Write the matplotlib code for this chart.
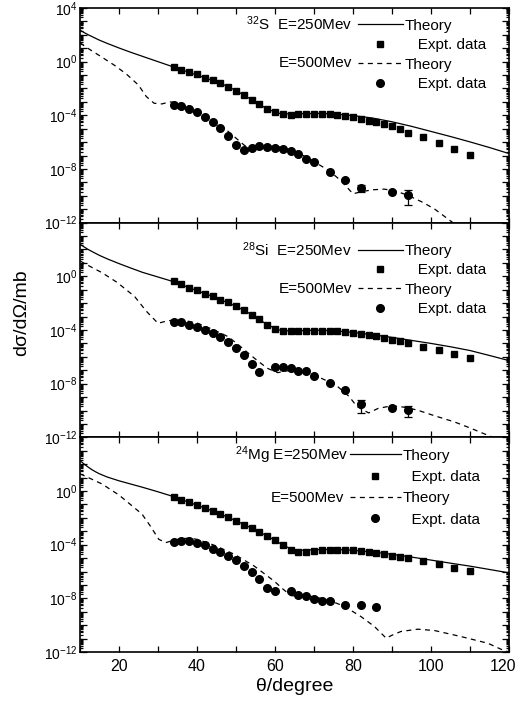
import numpy as np
import matplotlib
matplotlib.use("Agg")
import matplotlib.pyplot as plt
from matplotlib.ticker import LogLocator, MultipleLocator, FuncFormatter, NullFormatter
from matplotlib.lines import Line2D
from matplotlib.legend_handler import HandlerLine2D
from matplotlib.transforms import ScaledTranslation

plt.rcParams['font.family'] = ['Liberation Sans', 'DejaVu Sans']
plt.rcParams['mathtext.fontset'] = 'custom'
plt.rcParams['mathtext.rm'] = 'Liberation Sans'
plt.rcParams['mathtext.it'] = 'Liberation Sans:italic'
plt.rcParams['mathtext.bf'] = 'Liberation Sans:bold'

# ---------------- data (log10 of dσ/dΩ in mb) ----------------
sq_theta = [34, 36, 38, 40, 42, 44, 46, 48, 50, 52, 54, 56, 58, 60, 62, 64, 66, 68,
            70, 72, 74, 76, 78, 80, 82, 84, 86, 88, 90, 92, 94, 98, 102, 106, 110]

# 32S
s32_sq = [-0.40, -0.60, -0.80, -0.95, -1.20, -1.40, -1.60, -1.90, -2.15, -2.48, -2.83,
          -3.15, -3.53, -3.78, -3.90, -3.95, -3.93, -3.90, -3.90, -3.90, -3.90, -3.95,
          -4.03, -4.15, -4.25, -4.40, -4.53, -4.65, -4.83, -5.03, -5.28, -5.65, -6.03,
          -6.48, -6.95]
s32_ci_theta = [34, 36, 38, 40, 42, 44, 46, 48, 50, 52, 54, 56, 58, 60, 62, 64, 66, 68,
                70, 74, 78, 82, 90, 94]
s32_ci = [-3.20, -3.28, -3.53, -3.73, -4.10, -4.48, -4.95, -5.53, -6.20, -6.58, -6.40,
          -6.28, -6.33, -6.40, -6.48, -6.65, -6.90, -7.23, -7.45, -8.23, -8.85, -9.40,
          -9.70, -9.95]
s32_err_theta = [82, 94]
s32_err_lo = [-9.70, -10.65]
s32_err_hi = [-9.20, -9.60]
s32_th250_theta = [10, 11, 12, 13, 15, 17, 20, 23, 26, 30, 34, 38, 42, 46, 50, 54, 58,
                   61, 64, 68, 72, 76, 80, 85, 90, 95, 100, 105, 110, 115, 120]
s32_th250 = [2.35, 2.18, 2.02, 1.88, 1.60, 1.36, 1.02, 0.70, 0.40, 0.00, -0.40, -0.80,
             -1.20, -1.60, -2.15, -2.83, -3.53, -3.85, -3.90, -3.87, -3.86, -3.92, -4.02,
             -4.20, -4.48, -4.82, -5.20, -5.58, -5.98, -6.40, -6.85]
s32_th500_theta = [10, 12, 15, 19, 22, 25, 27, 29, 31, 33, 35, 38, 41, 44, 47, 50, 52,
                   54, 56, 58, 60, 62, 65, 68, 70, 74, 77, 80, 82, 85, 88, 91, 94, 98,
                   101, 104, 107]
s32_th500 = [1.40, 1.00, 0.45, -0.30, -0.95, -1.75, -2.60, -3.10, -3.15, -3.00, -3.05,
             -3.30, -3.80, -4.40, -4.95, -5.70, -6.20, -6.60, -6.55, -6.30, -6.30, -6.40,
             -6.70, -7.10, -7.45, -8.15, -8.90, -9.85, -9.70, -9.55, -9.50, -9.65, -9.95,
             -10.50, -11.00, -11.65, -12.30]

# 28Si
si28_sq = [-0.35, -0.60, -0.85, -1.05, -1.28, -1.48, -1.73, -1.93, -2.23, -2.48, -2.85,
           -3.18, -3.60, -3.93, -4.10, -4.10, -4.05, -4.05, -4.05, -4.05, -4.10, -4.10,
           -4.15, -4.23, -4.30, -4.38, -4.48, -4.60, -4.73, -4.85, -4.98, -5.23, -5.48,
           -5.80, -6.10]
si28_ci_theta = [34, 36, 38, 40, 42, 44, 46, 48, 50, 52, 54, 56, 60, 62, 64, 66, 68, 70,
                 74, 78, 82, 90, 94]
si28_ci = [-3.43, -3.43, -3.60, -3.80, -3.98, -4.23, -4.53, -4.93, -5.35, -5.85, -6.53,
           -7.10, -6.73, -6.73, -6.85, -7.03, -7.03, -7.40, -7.98, -8.48, -9.53, -9.85,
           -9.98]
si28_err_theta = [82, 94]
si28_err_lo = [-10.20, -10.50]
si28_err_hi = [-9.20, -9.68]
si28_th250_theta = [10, 11, 12, 13, 15, 17, 20, 23, 26, 30, 34, 38, 42, 46, 50, 54, 58,
                    61, 64, 68, 72, 76, 80, 85, 90, 94, 100, 105, 110, 115, 120]
si28_th250 = [2.40, 2.20, 2.02, 1.86, 1.56, 1.30, 0.95, 0.62, 0.30, -0.05, -0.40, -0.85,
              -1.28, -1.73, -2.23, -2.85, -3.60, -4.00, -4.08, -4.03, -4.02, -4.08, -4.18,
              -4.35, -4.55, -4.73, -5.00, -5.25, -5.53, -5.90, -6.28]
si28_th500_theta = [10, 12.5, 15.6, 19.5, 24, 27, 30, 32, 34, 37, 40, 44, 48, 51, 54.7,
                    58, 60.7, 63, 65, 67, 70, 73, 76, 79, 81, 84, 86.4, 89, 91.5, 94,
                    96.6, 101, 106, 110, 115, 118]
si28_th500 = [1.15, 0.75, 0.28, -0.45, -1.50, -2.60, -3.50, -3.35, -3.25, -3.30, -3.48,
              -3.95, -4.50, -5.20, -6.10, -6.85, -7.18, -7.05, -6.98, -7.10, -7.35, -7.75,
              -8.20, -8.95, -9.70, -10.18, -9.85, -9.70, -9.68, -9.80, -9.98, -10.40,
              -10.85, -11.30, -11.90, -12.20]

# 24Mg
mg24_sq = [-0.42, -0.65, -0.85, -1.05, -1.27, -1.47, -1.72, -1.97, -2.22, -2.52, -2.77,
           -3.05, -3.35, -3.67, -4.02, -4.40, -4.57, -4.55, -4.47, -4.42, -4.40, -4.40,
           -4.40, -4.42, -4.47, -4.55, -4.60, -4.72, -4.85, -4.92, -5.00, -5.22, -5.47,
           -5.72, -5.97]
mg24_ci_theta = [34, 36, 38, 40, 42, 44, 46, 48, 50, 52, 54, 56, 58, 60, 64, 66, 68, 70,
                 72, 74, 78, 82, 86]
mg24_ci = [-3.80, -3.72, -3.72, -3.85, -4.02, -4.30, -4.55, -4.85, -5.17, -5.60, -6.05,
           -6.55, -7.22, -7.47, -7.47, -7.72, -7.85, -8.02, -8.17, -8.17, -8.52, -8.52,
           -8.65]
mg24_th250_theta = [10, 11, 12, 13, 14, 15, 17, 20, 23, 26, 30, 34, 38, 42, 46, 50, 54,
                    58, 62, 64, 66, 70, 75, 80, 85, 90, 94, 100, 105, 110, 115, 120]
mg24_th250 = [2.27, 2.02, 1.80, 1.60, 1.43, 1.28, 1.04, 0.76, 0.52, 0.28, -0.06, -0.42,
              -0.85, -1.27, -1.72, -2.22, -2.77, -3.35, -4.02, -4.30, -4.42, -4.38, -4.35,
              -4.42, -4.55, -4.72, -4.88, -5.15, -5.38, -5.60, -5.85, -6.10]
mg24_th500_theta = [10, 12.5, 15.6, 20, 25.9, 28, 30.2, 32, 34, 36, 38, 40, 44.5, 49.6,
                    54.7, 59.8, 62, 64.1, 67, 69.2, 73.5, 77.8, 82, 85.5, 88.5, 90, 92.3,
                    96.6, 100.9, 107.7, 114.6, 118, 120]
mg24_th500 = [1.28, 0.95, 0.53, -0.30, -1.72, -2.60, -3.60, -3.85, -3.67, -3.55, -3.52,
              -3.60, -4.05, -4.72, -5.60, -6.72, -7.30, -7.80, -7.85, -7.85, -8.10, -8.60,
              -9.35, -10.10, -10.97, -10.75, -10.47, -10.30, -10.40, -10.85, -11.35,
              -11.80, -12.00]

panels = [
    dict(nuc=r'$^{32}$S  E=250Mev', sq=s32_sq, ci_t=s32_ci_theta, ci=s32_ci,
         err_t=s32_err_theta, err_lo=s32_err_lo, err_hi=s32_err_hi,
         t250=s32_th250_theta, v250=s32_th250, t500=s32_th500_theta, v500=s32_th500),
    dict(nuc=r'$^{28}$Si  E=250Mev', sq=si28_sq, ci_t=si28_ci_theta, ci=si28_ci,
         err_t=si28_err_theta, err_lo=si28_err_lo, err_hi=si28_err_hi,
         t250=si28_th250_theta, v250=si28_th250, t500=si28_th500_theta, v500=si28_th500),
    dict(nuc=r'$^{24}$Mg E=250Mev', sq=mg24_sq, ci_t=mg24_ci_theta, ci=mg24_ci,
         err_t=[], err_lo=[], err_hi=[],
         t250=mg24_th250_theta, v250=mg24_th250, t500=mg24_th500_theta, v500=mg24_th500),
]

# legend layout per panel (axes fractions)
layout = [
    dict(hx=0.648, hl=2.94, top=0.951, frac=0.80, sp='   ', ls=0.36,
         t1=(0.634, 0.925), t3=(0.634, 0.743)),
    dict(hx=0.648, hl=2.94, top=0.900, frac=0.80, sp='   ', ls=0.35,
         t1=(0.634, 0.874), t3=(0.634, 0.693)),
    dict(hx=0.630, hl=3.30, top=0.947, frac=0.70, sp='  ', ls=0.48,
         t1=(0.625, 0.916), t3=(0.615, 0.716)),
]


class MarkerAt(HandlerLine2D):
    def __init__(self, frac, **kw):
        super().__init__(**kw)
        self.frac = frac

    def get_xdata(self, legend, xdescent, ydescent, width, height, fontsize):
        return ([-xdescent, -xdescent + width], [-xdescent + self.frac * width])


fig = plt.figure(figsize=(5.2, 7.1), dpi=100)
gs = fig.add_gridspec(3, 1, left=80 / 520, right=509 / 520, bottom=1 - 652 / 710,
                      top=1 - 8 / 710, hspace=0)

DASH = (4, 3.5)
LW = 0.9
axes = []

for i, (p, lay) in enumerate(zip(panels, layout)):
    ax = fig.add_subplot(gs[i])
    axes.append(ax)
    ax.plot(p['t250'], 10.0 ** np.array(p['v250']), color='k', lw=LW)
    ax.plot(p['t500'], 10.0 ** np.array(p['v500']), color='k', lw=LW, ls='--', dashes=DASH)
    ax.plot(sq_theta, 10.0 ** np.array(p['sq']), ls='none', marker='s', ms=5, color='k')
    ax.plot(p['ci_t'], 10.0 ** np.array(p['ci']), ls='none', marker='o', ms=5.5, color='k')
    if p['err_t']:
        yc = []
        for t in p['err_t']:
            yc.append(p['ci'][p['ci_t'].index(t)])
        yc = np.array(yc)
        ylo = 10.0 ** yc - 10.0 ** np.array(p['err_lo'])
        yhi = 10.0 ** np.array(p['err_hi']) - 10.0 ** yc
        ax.errorbar(p['err_t'], 10.0 ** yc, yerr=[ylo, yhi], fmt='none', ecolor='k',
                    elinewidth=0.9, capsize=3, capthick=0.9)

    ax.set_yscale('log')
    ax.set_xlim(10, 120)
    ax.set_ylim(1e-12, 1e4)

    ax.xaxis.set_major_locator(MultipleLocator(20))
    ax.xaxis.set_minor_locator(MultipleLocator(10))
    ax.yaxis.set_major_locator(LogLocator(base=10, numticks=40))
    ax.yaxis.set_minor_locator(LogLocator(base=10, subs=np.arange(2, 10), numticks=40))
    ax.yaxis.set_minor_formatter(NullFormatter())

    def fmt(v, pos, top=(i == 0)):
        e = int(round(np.log10(v)))
        if e % 4 != 0:
            return ''
        if e == 4 and not top:
            return ''
        return r'$10^{%d}$' % e
    ax.yaxis.set_major_formatter(FuncFormatter(fmt))

    ax.tick_params(which='both', direction='in', top=True, right=True, width=0.9)
    ax.tick_params(axis='y', which='major', length=5, labelsize=10, pad=2)
    ax.tick_params(axis='y', which='minor', length=2.5)
    ax.tick_params(axis='x', which='major', length=4.5, labelsize=11.5, pad=5)
    ax.tick_params(axis='x', which='minor', length=4.5)
    if i < 2:
        ax.tick_params(axis='x', labelbottom=False)
    for s in ax.spines.values():
        s.set_linewidth(1.2)

    # legend
    h_sol = Line2D([], [], color='k', lw=LW)
    h_sq = Line2D([], [], ls='none', marker='s', ms=5, color='k')
    h_dsh = Line2D([], [], color='k', lw=LW, ls='--', dashes=DASH)
    h_ci = Line2D([], [], ls='none', marker='o', ms=5.5, color='k')
    ax.legend([h_sol, h_sq, h_dsh, h_ci],
              ['Theory', lay['sp'] + 'Expt. data', 'Theory', lay['sp'] + 'Expt. data'],
              loc='upper left', bbox_to_anchor=(lay['hx'], lay['top']), frameon=False,
              borderpad=0, borderaxespad=0, handlelength=lay['hl'], handletextpad=0.13,
              labelspacing=lay['ls'], fontsize=11,
              handler_map={h_sq: MarkerAt(lay['frac']), h_ci: MarkerAt(lay['frac'])})
    ax.text(lay['t1'][0], lay['t1'][1], p['nuc'], transform=ax.transAxes,
            ha='right', va='center', fontsize=11)
    ax.text(lay['t3'][0], lay['t3'][1], 'E=500Mev', transform=ax.transAxes,
            ha='right', va='center', fontsize=11)

    if i == 2:
        ax.set_xlabel('θ/degree', fontsize=14, labelpad=3)

fig.text(22 / 520, 1 - 313 / 710, 'dσ/dΩ/mb', rotation=90, ha='center', va='center',
         fontsize=14)

# nudge the last x tick label ("120") slightly left so it stays inside the figure
fig.canvas.draw()
for tk in axes[2].xaxis.get_major_ticks():
    if abs(tk.get_loc() - 120) < 1e-6:
        tk.label1.set_transform(tk.label1.get_transform() +
                                ScaledTranslation(-4 / 72, 0, fig.dpi_scale_trans))

fig.savefig('out.png', dpi=100)
